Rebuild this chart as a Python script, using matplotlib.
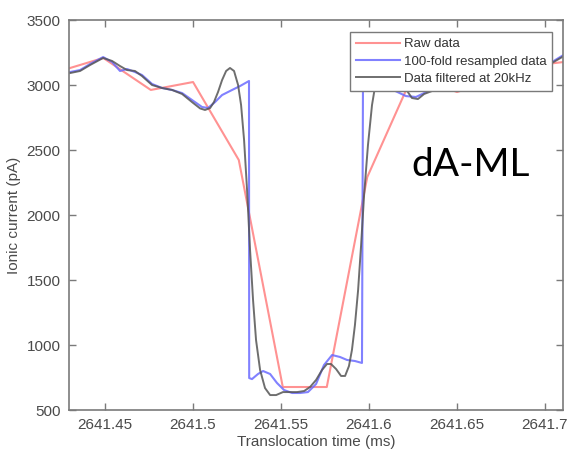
"""
Nanopore event trace: raw samples vs. resampled and low-pass filtered signal.
"""

import matplotlib
matplotlib.use("Agg")
import matplotlib.pyplot as plt

# --- Data (time in ms, current in pA) ---
raw_t = [2641.425, 2641.449, 2641.476, 2641.500, 2641.526, 2641.551,
         2641.576, 2641.599, 2641.625, 2641.650, 2641.675, 2641.700, 2641.725]
raw_i = [3110, 3208, 2962, 3023, 2423, 677,
         677, 2292, 3080, 2946, 3060, 3160, 3200]

resampled_t = [2641.4301, 2641.4358, 2641.4415, 2641.4489, 2641.4540, 2641.4585,
               2641.4625, 2641.4670, 2641.4710, 2641.4767, 2641.4824, 2641.4881,
               2641.4938, 2641.4994, 2641.5051, 2641.5085, 2641.5125, 2641.5165,
               2641.5222, 2641.5267, 2641.5318, 2641.5319, 2641.5335, 2641.5369,
               2641.5398, 2641.5438, 2641.5477, 2641.5517, 2641.5563, 2641.5608,
               2641.5653, 2641.5699, 2641.5744, 2641.5790, 2641.5835, 2641.5875,
               2641.5920, 2641.5960, 2641.5966, 2641.6050, 2641.6140, 2641.6210,
               2641.6267, 2641.6325, 2641.6420, 2641.6580, 2641.6750, 2641.6920,
               2641.7040, 2641.7110]
resampled_i = [3100, 3115, 3162, 3215, 3177, 3108,
               3123, 3100, 3077, 3008, 2977, 2962,
               2938, 2885, 2831, 2823, 2869, 2923,
               2962, 2992, 3031, 746, 738, 777,
               800, 777, 708, 654, 631, 631,
               638, 700, 846, 923, 908, 885,
               877, 862, 3130, 3060, 2960, 2915,
               2908, 2946, 2990, 3020, 3050, 3100,
               3177, 3235]

filtered_t = [2641.4301, 2641.4358, 2641.4415, 2641.4489, 2641.4540, 2641.4585,
              2641.4625, 2641.4670, 2641.4710, 2641.4767, 2641.4824, 2641.4881,
              2641.4938, 2641.4994, 2641.5040, 2641.5068, 2641.5097, 2641.5119,
              2641.5142, 2641.5165, 2641.5188, 2641.5210, 2641.5233, 2641.5256,
              2641.5273, 2641.5290, 2641.5307, 2641.5324, 2641.5341, 2641.5358,
              2641.5381, 2641.5409, 2641.5438, 2641.5472, 2641.5511, 2641.5551,
              2641.5591, 2641.5631, 2641.5665, 2641.5699, 2641.5733, 2641.5761,
              2641.5784, 2641.5813, 2641.5841, 2641.5864, 2641.5886, 2641.5903,
              2641.5920, 2641.5938, 2641.5955, 2641.5972, 2641.5994, 2641.6017,
              2641.6045, 2641.6080, 2641.6119, 2641.6165, 2641.6205, 2641.6244,
              2641.6278, 2641.6313, 2641.6400, 2641.6550, 2641.6750, 2641.6920,
              2641.7040, 2641.7110]
filtered_i = [3092, 3108, 3154, 3208, 3185, 3146,
              3115, 3108, 3069, 3000, 2977, 2962,
              2931, 2869, 2820, 2808, 2823, 2869,
              2946, 3038, 3108, 3131, 3108, 3000,
              2846, 2577, 2192, 1731, 1346, 1038,
              808, 669, 615, 615, 638, 638,
              638, 646, 677, 731, 808, 854,
              854, 815, 762, 762, 838, 962,
              1154, 1423, 1769, 2154, 2538, 2846,
              3077, 3192, 3208, 3115, 2977, 2900,
              2892, 2931, 2975, 3005, 3040, 3090,
              3170, 3225]

x_ticks = [2641.45, 2641.5, 2641.55, 2641.6, 2641.65, 2641.7]
x_tick_labels = ["2641.45", "2641.5", "2641.55", "2641.6", "2641.65", "2641.7"]
y_ticks = [500, 1000, 1500, 2000, 2500, 3000, 3500]

TEXT_GREY = "#4a4a4a"
AXIS_GREY = "#7a7a7a"


def draw():
    plt.rcParams["font.family"] = ["Liberation Sans", "DejaVu Sans"]
    plt.rcParams["font.size"] = 11

    fig = plt.figure(figsize=(5.71, 4.57), dpi=100)
    ax = fig.add_axes([0.1208, 0.1028, 0.8651, 0.8534])

    ax.plot(raw_t, raw_i, color="#ff7f7f", lw=1.5, alpha=0.85, label="Raw data")
    ax.plot(resampled_t, resampled_i, color="#6b6bff", lw=1.5, alpha=0.85,
            label="100-fold resampled data")
    ax.plot(filtered_t, filtered_i, color="#555555", lw=1.4, alpha=0.85,
            label="Data filtered at 20kHz")

    ax.set_xlim(2641.4295, 2641.7102)
    ax.set_ylim(500, 3500)
    ax.set_xticks(x_ticks)
    ax.set_xticklabels(x_tick_labels)
    ax.set_yticks(y_ticks)

    ax.tick_params(direction="in", top=True, right=True, length=5,
                   width=1, color=AXIS_GREY, labelcolor=TEXT_GREY,
                   labelsize=11, pad=6)
    for sp in ax.spines.values():
        sp.set_color(AXIS_GREY)
        sp.set_linewidth(1.2)

    ax.set_xlabel("Translocation time (ms)", color=TEXT_GREY, fontsize=11, labelpad=2)
    ax.set_ylabel("Ionic current (pA)", color=TEXT_GREY, fontsize=11, labelpad=4)

    leg = ax.legend(loc="upper right", bbox_to_anchor=(0.978, 0.969),
                    borderaxespad=0, fontsize=9.5, frameon=True, fancybox=False,
                    handlelength=3.3, handletextpad=0.3, labelspacing=0.38,
                    borderpad=0.45)
    leg.get_frame().set_edgecolor(AXIS_GREY)
    leg.get_frame().set_linewidth(1.0)
    leg.get_frame().set_alpha(1.0)
    for txt in leg.get_texts():
        txt.set_color("#333333")

    ax.text(0.812, 0.628, "dA-ML", transform=ax.transAxes, ha="center",
            va="center", fontsize=28, family=["Lato", "DejaVu Sans"],
            color="black")

    fig.savefig("out.png", dpi=100)


if __name__ == "__main__":
    draw()
